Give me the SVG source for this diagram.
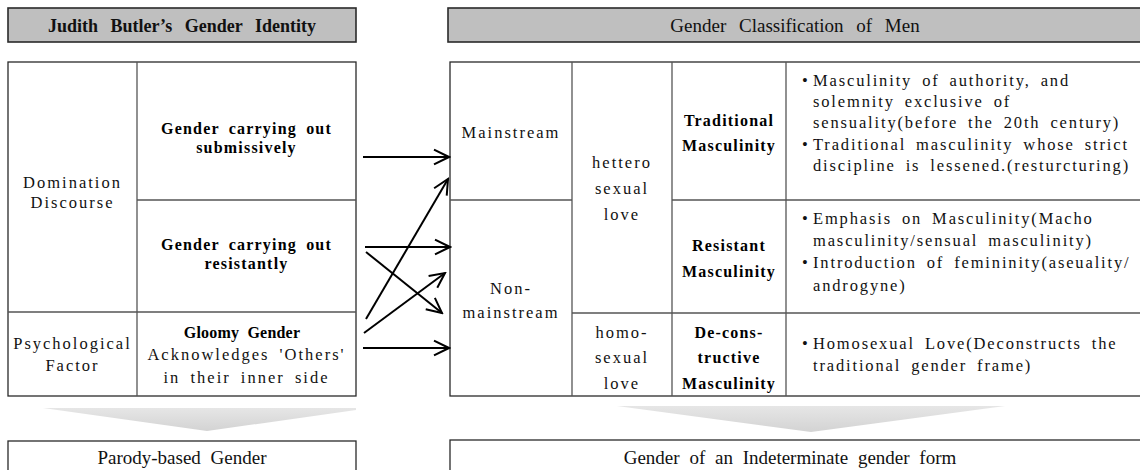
<svg xmlns="http://www.w3.org/2000/svg" width="1140" height="470" viewBox="0 0 1140 470">
<defs>
<style>
.hdr{fill:#bfbfbf;stroke:#2a2a2a;stroke-width:1.6}
.box{fill:#fff;stroke:#2a2a2a;stroke-width:1.3}
.ln{stroke:#555;stroke-width:1.3;fill:none}
.r{font-family:"Liberation Serif",serif;font-size:16.5px;letter-spacing:2px;word-spacing:4px;fill:#111;text-anchor:middle}
.rl{font-family:"Liberation Serif",serif;font-size:16.5px;letter-spacing:1.85px;word-spacing:4px;fill:#111;text-anchor:start}
.b{font-family:"Liberation Serif",serif;font-weight:bold;font-size:16px;letter-spacing:1.2px;word-spacing:4px;fill:#000;text-anchor:middle}
.ht{font-family:"Liberation Serif",serif;font-weight:bold;font-size:18px;word-spacing:8px;fill:#111;text-anchor:middle}
.hn{font-family:"Liberation Serif",serif;font-size:19px;word-spacing:8px;fill:#111;text-anchor:middle}
.bt{font-family:"Liberation Serif",serif;font-size:19px;word-spacing:5px;fill:#111;text-anchor:middle}
.arr{stroke:#000;stroke-width:2;fill:none;marker-end:url(#ah)}
</style>
<marker id="ah" viewBox="-18 -9 20 18" refX="0" refY="0" markerWidth="20" markerHeight="18" markerUnits="userSpaceOnUse" orient="auto">
<path d="M-15,-7.3 L0,0 L-15,7.3" fill="none" stroke="#000" stroke-width="2"/>
</marker>
<linearGradient id="gg" x1="0" y1="0" x2="0" y2="1">
<stop offset="0" stop-color="#e6e6e6"/>
<stop offset="1" stop-color="#d3d3d3"/>
</linearGradient>
</defs>
<rect width="1140" height="470" fill="#fff"/>

<g id="header-left">
<rect class="hdr" x="8" y="8" width="348" height="34"/>
<text class="ht" x="182" y="31.5">Judith Butler’s Gender Identity</text>
</g>
<g id="header-right">
<rect class="hdr" x="448" y="8" width="702" height="34"/>
<text class="hn" x="795" y="31.5">Gender Classification of Men</text>
</g>

<g id="left-table">
<rect class="box" x="8" y="62" width="348" height="334"/>
<line class="ln" x1="137" y1="62" x2="137" y2="396"/>
<line class="ln" x1="137" y1="200" x2="356" y2="200"/>
<line class="ln" x1="8" y1="312" x2="356" y2="312"/>
</g>
<g id="domination-discourse">
<text class="r" x="72.5" y="187.5">Domination</text>
<text class="r" x="72.5" y="207.5">Discourse</text>
</g>
<g id="submissive">
<text class="b" x="246.5" y="134">Gender carrying out</text>
<text class="b" x="246.5" y="153">submissively</text>
</g>
<g id="resistant">
<text class="b" x="246.5" y="250">Gender carrying out</text>
<text class="b" x="246.5" y="269">resistantly</text>
</g>
<g id="psychological-factor">
<text class="r" x="72.5" y="348.5">Psychological</text>
<text class="r" x="72.5" y="370.5">Factor</text>
</g>
<g id="gloomy">
<text class="b" x="242" y="337.5" style="letter-spacing:0.2px">Gloomy Gender</text>
<text class="r" x="246.5" y="359.5">Acknowledges 'Others'</text>
<text class="r" x="246.5" y="382.5">in their inner side</text>
</g>

<g id="right-table">
<rect class="box" x="450" y="62" width="700" height="334"/>
<line class="ln" x1="572" y1="62" x2="572" y2="396"/>
<line class="ln" x1="672" y1="62" x2="672" y2="396"/>
<line class="ln" x1="786" y1="62" x2="786" y2="396"/>
<line class="ln" x1="450" y1="200" x2="572" y2="200"/>
<line class="ln" x1="672" y1="200" x2="1150" y2="200"/>
<line class="ln" x1="572" y1="313" x2="1150" y2="313"/>
</g>
<g id="mainstream"><text class="r" x="511" y="137.5">Mainstream</text></g>
<g id="non-mainstream">
<text class="r" x="511" y="293.5">Non-</text>
<text class="r" x="511" y="317.5">mainstream</text>
</g>
<g id="hetero">
<text class="r" x="622" y="167.5">hettero</text>
<text class="r" x="622" y="193.5">sexual</text>
<text class="r" x="622" y="219.5">love</text>
</g>
<g id="homo">
<text class="r" x="622" y="337.5">homo-</text>
<text class="r" x="622" y="362.5">sexual</text>
<text class="r" x="622" y="388.5">love</text>
</g>
<g id="traditional">
<text class="b" x="729" y="125.5">Traditional</text>
<text class="b" x="729" y="150.5">Masculinity</text>
</g>
<g id="resistant-m">
<text class="b" x="729" y="250.5">Resistant</text>
<text class="b" x="729" y="276.5">Masculinity</text>
</g>
<g id="deconstructive">
<text class="b" x="729" y="337.5">De-cons-</text>
<text class="b" x="729" y="362.5">tructive</text>
<text class="b" x="729" y="388.5">Masculinity</text>
</g>
<g id="desc-traditional">
<text class="rl" x="802" y="85.5">•</text>
<text class="rl" x="813" y="85.5">Masculinity of authority, and</text>
<text class="rl" x="813" y="106.5">solemnity exclusive of</text>
<text class="rl" x="813" y="127.5">sensuality(before the 20th century)</text>
<text class="rl" x="802" y="149.5">•</text>
<text class="rl" x="813" y="149.5">Traditional masculinity whose strict</text>
<text class="rl" x="813" y="170.5">discipline is lessened.(resturcturing)</text>
</g>
<g id="desc-resistant">
<text class="rl" x="802" y="223.5">•</text>
<text class="rl" x="813" y="223.5">Emphasis on Masculinity(Macho</text>
<text class="rl" x="813" y="245.5">masculinity/sensual masculinity)</text>
<text class="rl" x="802" y="267.5">•</text>
<text class="rl" x="813" y="267.5">Introduction of femininity(aseuality/</text>
<text class="rl" x="813" y="290.5">androgyne)</text>
</g>
<g id="desc-deconstructive">
<text class="rl" x="802" y="348.5">•</text>
<text class="rl" x="813" y="348.5">Homosexual Love(Deconstructs the</text>
<text class="rl" x="813" y="370.5">traditional gender frame)</text>
</g>

<g id="connectors">
<line class="arr" x1="363" y1="157" x2="449" y2="157"/>
<line class="arr" x1="366" y1="319" x2="448" y2="179"/>
<line class="arr" x1="365" y1="247" x2="450" y2="247"/>
<line class="arr" x1="366" y1="252" x2="442" y2="313"/>
<line class="arr" x1="364" y1="333" x2="445" y2="273"/>
<line class="arr" x1="363" y1="348" x2="449" y2="348"/>
</g>

<g id="down-arrow-left">
<polygon points="43,408 356,408 356,410 207,431" fill="url(#gg)"/>
</g>
<g id="down-arrow-right">
<polygon points="617,406 1005,406 811,432" fill="url(#gg)"/>
</g>

<g id="parody">
<rect class="box" x="8" y="441" width="348" height="40"/>
<text class="bt" x="182" y="464">Parody-based Gender</text>
</g>
<g id="indeterminate">
<rect class="box" x="450" y="440" width="700" height="40"/>
<text class="bt" x="790" y="464">Gender of an Indeterminate gender form</text>
</g>
</svg>
